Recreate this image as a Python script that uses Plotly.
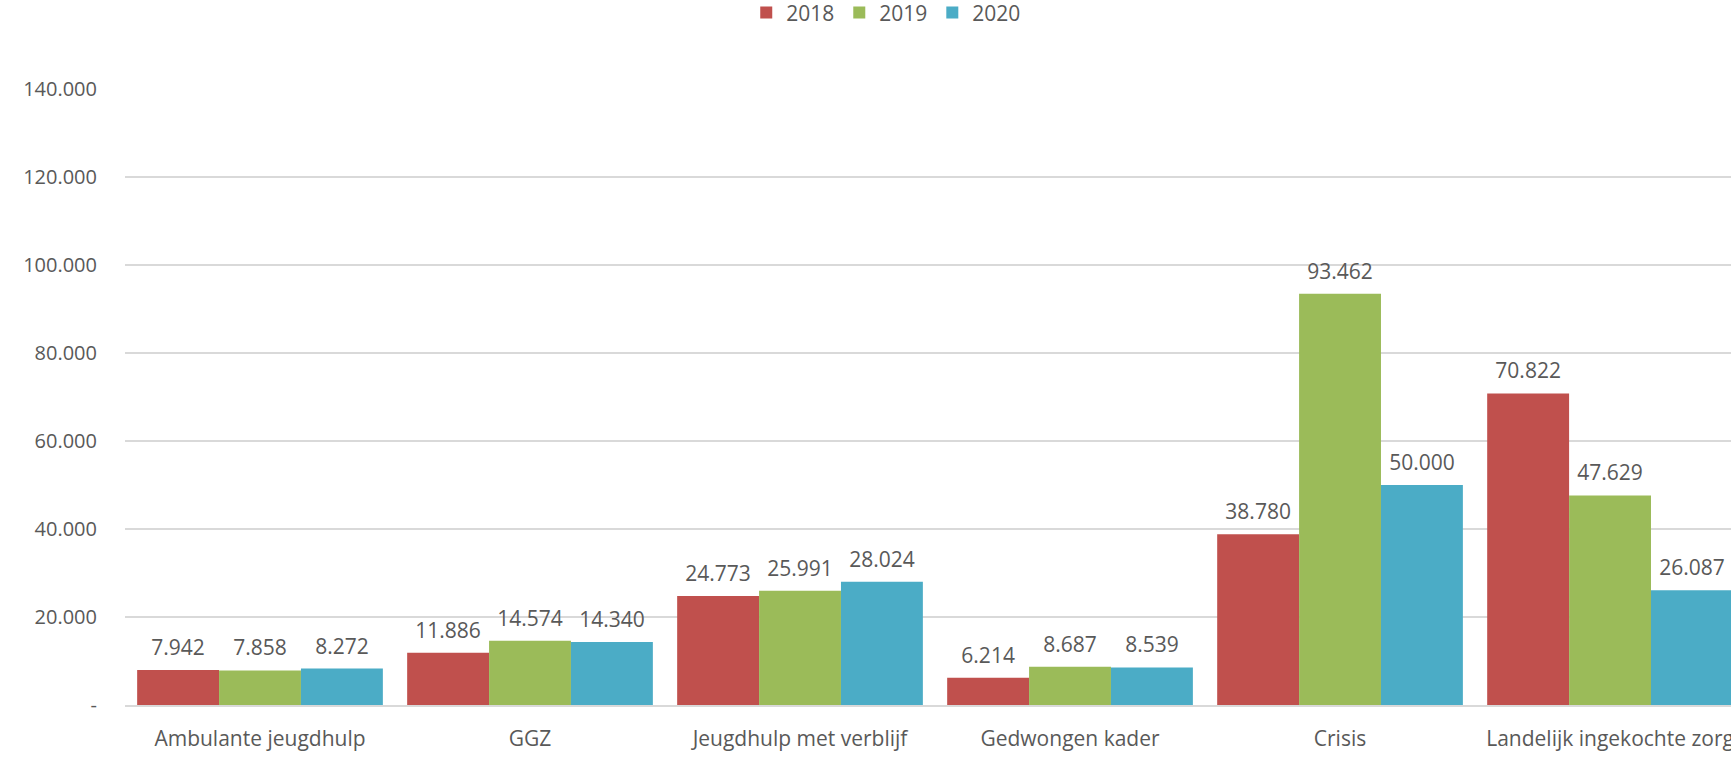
import plotly.graph_objects as go

categories = ["Ambulante jeugdhulp", "GGZ", "Jeugdhulp met verblijf", "Gedwongen kader", "Crisis", "Landelijk ingekochte zorg"]
years = ["2018", "2019", "2020"]
values_2018 = [7942, 11886, 24773, 6214, 38780, 70822]
values_2019 = [7858, 14574, 25991, 8687, 93462, 47629]
values_2020 = [8272, 14340, 28024, 8539, 50000, 26087]
colors = ["#C0504D", "#9BBB59", "#4BACC6"]
tick_vals = [0, 20000, 40000, 60000, 80000, 100000, 120000, 140000]
tick_text = ["-", "20.000", "40.000", "60.000", "80.000", "100.000", "120.000", "140.000"]

FONT = "Open Sans"
GREY = "#595959"

fig = go.Figure()
series = list(zip(years, [values_2018, values_2019, values_2020], colors))
for name, vals, col in series:
    fig.add_trace(go.Bar(
        name=name, x=categories, y=vals,
        marker=dict(color=col, line=dict(width=0)),
        offsetgroup=name,
    ))
for name, vals, col in series:
    fig.add_trace(go.Scatter(
        x=categories, y=vals, mode="markers+text", offsetgroup=name,
        marker=dict(size=14, opacity=0, color=col),
        text=[f"{v:,}".replace(",", ".") for v in vals], textposition="top center",
        textfont=dict(family=FONT, size=21, color=GREY),
        showlegend=False, hoverinfo="skip", cliponaxis=False,
    ))

fig.update_layout(
    width=1731, height=762,
    margin=dict(l=125, r=0, t=89, b=57, autoexpand=False),
    paper_bgcolor="white", plot_bgcolor="white",
    barmode="group", bargap=0.09, bargroupgap=0,
    scattermode="group", scattergap=0.09,
    separators=",.",
    font=dict(family=FONT, size=21, color=GREY),
    legend=dict(orientation="h", x=0.474, xanchor="center",
                yref="paper", y=1.157, yanchor="top",
                font=dict(family=FONT, size=21, color=GREY), traceorder="normal"),
    xaxis=dict(range=[-0.5, 5.448], showgrid=False, showline=True, linecolor="#D9D9D9",
               linewidth=1.5, ticks="", automargin=False, ticklabelstandoff=14,
               tickfont=dict(family=FONT, size=21, color=GREY)),
    yaxis=dict(range=[0, 140000], tickvals=tick_vals, ticktext=tick_text,
               showgrid=True, gridcolor="#D9D9D9", gridwidth=1.5, zeroline=False,
               ticks="", ticklabelstandoff=27, automargin=False,
               tickfont=dict(family=FONT, size=20, color=GREY)),
)

fig.write_html("out.html", config={"displayModeBar": False},
               post_script="document.body.style.margin='0';")
